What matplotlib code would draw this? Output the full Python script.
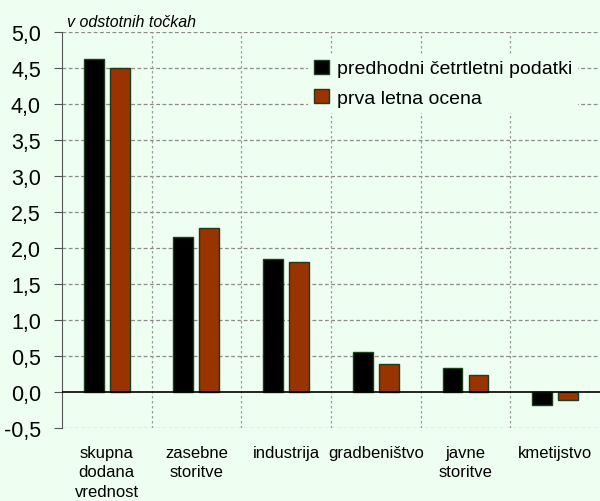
import numpy as np
import matplotlib.pyplot as plt
from matplotlib.ticker import FixedLocator

categories = ["skupna\ndodana\nvrednost", "zasebne\nstoritve", "industrija",
              "gradbeništvo", "javne\nstoritve", "kmetijstvo"]
prev_quarterly = [4.63, 2.16, 1.85, 0.55, 0.34, -0.18]
first_annual = [4.50, 2.28, 1.81, 0.39, 0.23, -0.11]
yticks = [-0.5, 0.0, 0.5, 1.0, 1.5, 2.0, 2.5, 3.0, 3.5, 4.0, 4.5, 5.0]

plt.rcParams['font.family'] = ['Liberation Sans', 'DejaVu Sans']

bg = "#EEFFF1"
fig = plt.figure(figsize=(6, 5.02), dpi=100, facecolor=bg)
ax = fig.add_axes([0.103, 0.1454, 0.897, 0.7886], facecolor=bg)

x = np.arange(len(categories))
w = 0.22
off = 0.145
ax.bar(x - off, prev_quarterly, w, color="black", edgecolor="#1d3d1d", linewidth=1,
       label="predhodni četrtletni podatki", zorder=3)
ax.bar(x + off, first_annual, w, color="#993300", edgecolor="#1d3d1d", linewidth=1,
       label="prva letna ocena", zorder=3)

ax.set_xlim(-0.5, len(categories) - 0.5)
ax.set_ylim(-0.5, 5.0)
ax.set_yticks(yticks)
ax.set_yticklabels([f"{v:.1f}".replace(".", ",") for v in yticks], fontsize=15.5)
ax.set_xticks(x)
ax.set_xticklabels(categories, fontsize=12, linespacing=1.4, va="top")
ax.tick_params(axis="x", length=0, pad=12)
ax.tick_params(axis="y", length=6, color="#555555", pad=9)

for y in yticks[2:]:
    ax.axhline(y, color="#8a8a8a", lw=0.9, ls=(0, (3, 2)), zorder=1)
ax.axhline(-0.5, color="#8a8a8a", lw=0.9, ls=(0, (3, 2)), zorder=1)
ax.xaxis.set_minor_locator(FixedLocator(np.arange(0.5, len(categories) - 0.5, 1)))
ax.grid(which="minor", axis="x", color="#9a9a9a", lw=0.9, ls=(0, (2, 2)), zorder=1)
ax.tick_params(which="minor", length=0)
ax.axhline(0, color="black", lw=1.2, zorder=4)

for s in ["top", "right", "bottom"]:
    ax.spines[s].set_visible(False)
ax.spines["left"].set_color("#555555")

ax.text(0.01, 1.008, "v odstotnih točkah", transform=ax.transAxes, fontsize=11.5,
        style="italic", va="bottom")

leg = ax.legend(loc="upper left", bbox_to_anchor=(0.44, 0.97), fontsize=14,
                frameon=True, facecolor=bg, edgecolor="none", framealpha=1,
                handlelength=0.75, handleheight=0.75, handletextpad=0.4,
                labelspacing=0.6, borderpad=0.3)
leg.set_zorder(5)

fig.savefig("out.png", dpi=100, facecolor=bg)
